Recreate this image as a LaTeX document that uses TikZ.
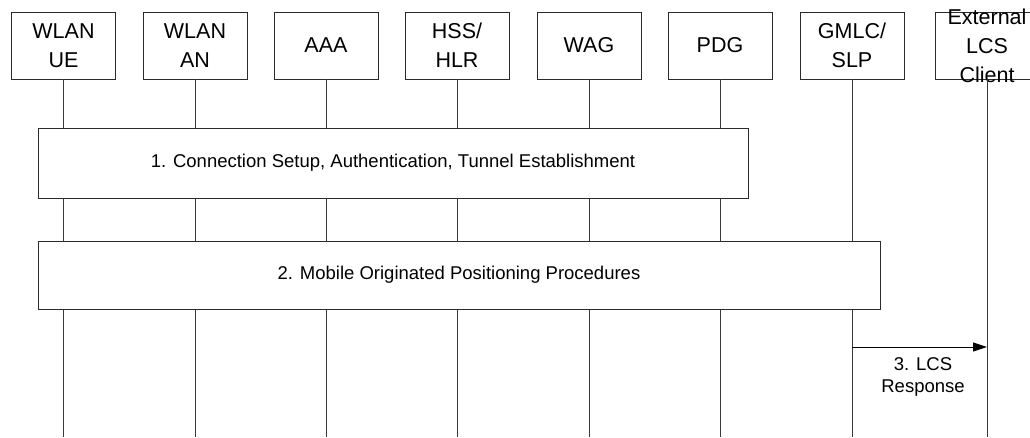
\documentclass[tikz,border=0pt]{standalone}
\usepackage{fontspec}
\setmainfont{Liberation Sans}
\usetikzlibrary{arrows.meta,positioning}
\definecolor{Ink}{HTML}{2B2B2B}
\definecolor{Life}{HTML}{3A3A3A}
\tikzset{
  entity/.style={draw=Ink,line width=0.9pt,fill=white,minimum width=104pt,minimum height=67pt,inner sep=0pt},
  entitytext/.style={align=center,inner sep=0pt,font=\fontsize{21.5}{29}\selectfont},
  lifeline/.style={draw=Life,line width=0.9pt},
  stepbox/.style={draw=Ink,line width=0.9pt,fill=white,inner sep=0pt,font=\fontsize{18.5}{22}\selectfont},
  msg/.style={draw=black,line width=0.9pt,-{Triangle[length=14pt,width=9pt]}},
  msgtext/.style={align=center,inner sep=0pt,font=\fontsize{18.5}{22}\selectfont}
}
\newcommand{\entity}[3]{%
  \node[entity] (#1) at (#2,45.5) {};
  \node[entitytext] (#1-txt) at (#1.center) {#3};
  \coordinate (#1-end) at (#2,437);
  \draw[lifeline] (#1.south) -- (#1-end);
}

\begin{document}
\begin{tikzpicture}[x=1pt,y=-1pt]
        \useasboundingbox (0,0) rectangle (1030,437);
        \entity{ue}{63.5}{WLAN\\UE}\entity{an}{195}{WLAN\\AN}\entity{aaa}{326}{AAA}\entity{hss}{457}{HSS/\\HLR}
        \entity{wag}{589}{WAG}\entity{pdg}{720}{PDG}\entity{gmlc}{852}{GMLC/\\SLP}\entity{client}{987}{External\\LCS\\Client}
        \node[stepbox,minimum width=710pt,minimum height=70pt] (setup) at (393,163) {1. Connection Setup, Authentication, Tunnel Establishment};
        \node[stepbox,minimum width=842pt,minimum height=68pt] (mopos) at (459,275) {2. Mobile Originated Positioning Procedures};
        \coordinate (rsp-a) at (gmlc.south |- 0,347);
        \coordinate (rsp-b) at (client.south |- 0,347);
        \draw[msg] (rsp-a) -- (rsp-b);
        \node[msgtext] (rsp) at (923,377) {3. LCS\\Response};
      \end{tikzpicture}
\end{document}
